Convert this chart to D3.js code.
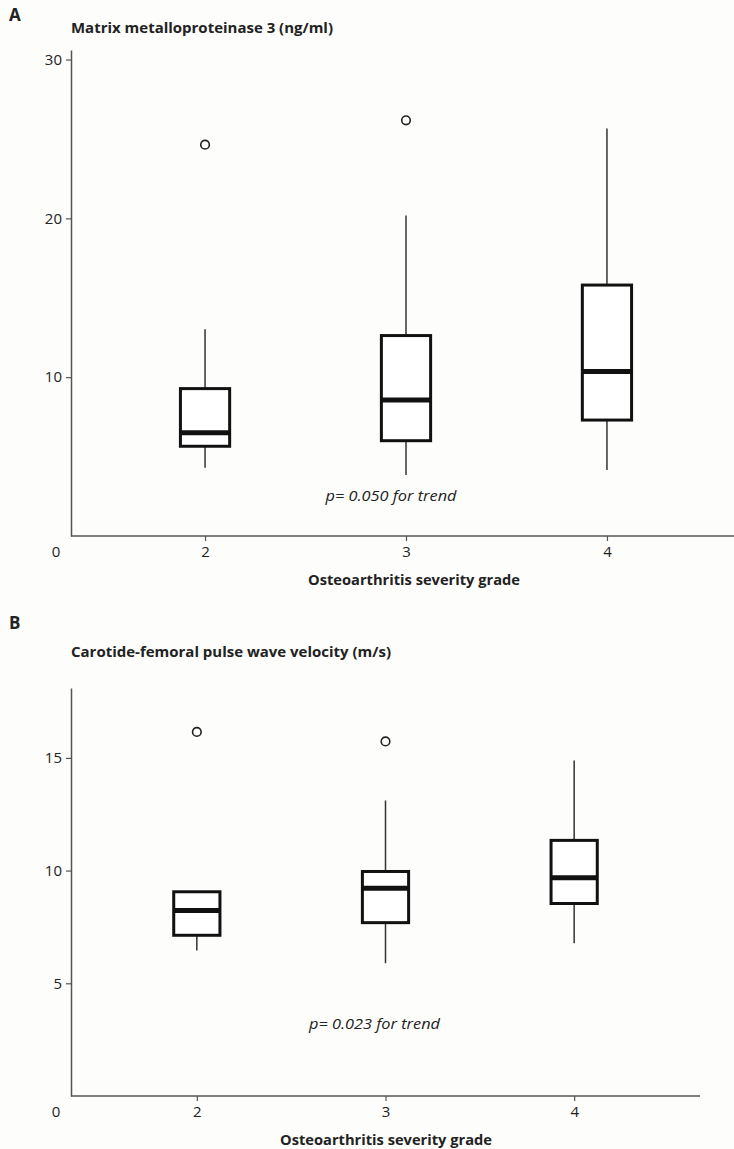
<!DOCTYPE html>
<html>
<head>
<meta charset="utf-8">
<script src="https://cdn.jsdelivr.net/npm/d3@7"></script>
<style>
  html, body { margin: 0; padding: 0; background: #fdfdfb; }
  svg { display: block; }
  text { fill: #222; }
</style>
</head>
<body>
<svg id="chart" width="734" height="1149"></svg>
<script>
// ---------- DATA ----------
const categories = ["2", "3", "4"];

// Panel A: Matrix metalloproteinase 3 (ng/ml)
const aWhiskerLow  = [4.30, 3.84, 4.16];
const aQ1          = [5.65, 6.00, 7.30];
const aMedian      = [6.50, 8.57, 10.35];
const aQ3          = [9.28, 12.62, 15.80];
const aWhiskerHigh = [13.02, 20.18, 25.65];
const aOutliers    = [[24.64], [26.17], []];
const aYTicks      = [10, 20, 30];
const aTitle       = "Matrix metalloproteinase 3 (ng/ml)";
const aP           = "p= 0.050 for trend";

// Panel B: Carotide-femoral pulse wave velocity (m/s)
const bWhiskerLow  = [6.45, 5.89, 6.78];
const bQ1          = [7.13, 7.69, 8.54];
const bMedian      = [8.23, 9.22, 9.68];
const bQ3          = [9.06, 9.96, 11.34];
const bWhiskerHigh = [9.06, 13.11, 14.88];
const bOutliers    = [[16.15], [15.73], []];
const bYTicks      = [5, 10, 15];
const bTitle       = "Carotide-femoral pulse wave velocity (m/s)";
const bP           = "p= 0.023 for trend";

const xLabel = "Osteoarthritis severity grade";

// ---------- DRAW ----------
const svg = d3.select("#chart");
const FONT = "'Open Sans', 'Liberation Sans', sans-serif";

function panel(cfg) {
  const g = svg.append("g");
  const x = d3.scalePoint().domain(categories).range([71, cfg.xRight]).padding(0.667);
  const y = d3.scaleLinear().domain([0, cfg.yMax]).range([cfg.yBottom, cfg.yTop]);
  const step = x.step();
  const bw = step * 0.245;

  // panel letter
  g.append("text").attr("x", 9).attr("y", cfg.letterY)
    .attr("font-family", FONT).attr("font-weight", "bold").attr("font-size", 17)
    .text(cfg.letter);
  // title
  g.append("text").attr("x", 71).attr("y", cfg.titleY)
    .attr("font-family", FONT).attr("font-weight", "bold").attr("font-size", 14)
    .attr("textLength", cfg.titleLen).attr("lengthAdjust", "spacingAndGlyphs")
    .text(cfg.title);

  // y axis
  const yAxis = g.append("g").attr("transform", "translate(71,0)")
    .call(d3.axisLeft(y).tickValues(cfg.yTicks).tickSize(5).tickPadding(4).tickSizeOuter(0));
  yAxis.attr("font-size", 15).attr("font-family", FONT);
  yAxis.select(".domain").attr("stroke", "#555").attr("stroke-width", 1.5);
  yAxis.selectAll(".tick line").attr("stroke", "#555").attr("stroke-width", 1.2);
  yAxis.selectAll(".tick text").attr("font-size", 15).attr("fill", "#333");

  // x axis
  const xAxis = g.append("g").attr("transform", `translate(0,${y(0)})`)
    .call(d3.axisBottom(x).tickSize(5).tickPadding(5).tickSizeOuter(0));
  xAxis.attr("font-size", 15).attr("font-family", FONT);
  xAxis.select(".domain").attr("stroke", "#555").attr("stroke-width", 1.5)
    .attr("d", `M71,0H${cfg.xRight}`);
  xAxis.selectAll(".tick line").attr("stroke", "#555").attr("stroke-width", 1.2);
  xAxis.selectAll(".tick text").attr("font-size", 15).attr("fill", "#333");

  // "0" label offset below the origin
  g.append("text").attr("x", 71 - 15).attr("y", y(0) + 21)
    .attr("text-anchor", "middle").attr("font-family", FONT).attr("font-size", 15).attr("fill", "#333")
    .text("0");

  // x label
  g.append("text").attr("x", x("3") + cfg.xLabelShift).attr("y", y(0) + 49)
    .attr("text-anchor", "middle").attr("font-family", FONT).attr("font-weight", "bold").attr("font-size", 14)
    .attr("textLength", 212).attr("lengthAdjust", "spacingAndGlyphs")
    .text(xLabel);

  // p annotation
  g.append("text").attr("x", x("3") + cfg.pShift).attr("y", y(cfg.pVal) + 5)
    .attr("text-anchor", "middle").attr("font-family", FONT).attr("font-style", "italic").attr("font-size", 14)
    .attr("fill", "#333").attr("textLength", 131).attr("lengthAdjust", "spacingAndGlyphs")
    .text(cfg.p);

  const rows = categories.map((c, i) => ({
    c, lo: cfg.lo[i], q1: cfg.q1[i], med: cfg.med[i], q3: cfg.q3[i], hi: cfg.hi[i], out: cfg.out[i]
  }));

  const box = g.selectAll("g.box").data(rows).join("g").attr("class", "box");
  // whiskers
  box.filter(d => d.hi > d.q3).append("line")
    .attr("x1", d => x(d.c)).attr("x2", d => x(d.c))
    .attr("y1", d => y(d.q3)).attr("y2", d => y(d.hi))
    .attr("stroke", "#333").attr("stroke-width", 1.5);
  box.filter(d => d.lo < d.q1).append("line")
    .attr("x1", d => x(d.c)).attr("x2", d => x(d.c))
    .attr("y1", d => y(d.q1)).attr("y2", d => y(d.lo))
    .attr("stroke", "#333").attr("stroke-width", 1.5);
  // box
  box.append("rect")
    .attr("x", d => x(d.c) - bw / 2).attr("width", bw)
    .attr("y", d => y(d.q3)).attr("height", d => y(d.q1) - y(d.q3))
    .attr("fill", "#fff").attr("stroke", "#111").attr("stroke-width", 3);
  // median
  box.append("line")
    .attr("x1", d => x(d.c) - bw / 2).attr("x2", d => x(d.c) + bw / 2)
    .attr("y1", d => y(d.med)).attr("y2", d => y(d.med))
    .attr("stroke", "#111").attr("stroke-width", 5);
  // outliers
  box.selectAll("circle").data(d => d.out.map(v => ({ c: d.c, v }))).join("circle")
    .attr("cx", d => x(d.c)).attr("cy", d => y(d.v)).attr("r", 4.3)
    .attr("fill", "#fff").attr("stroke", "#222").attr("stroke-width", 1.6);
}

panel({
  letter: "A", letterY: 21, title: aTitle, titleY: 33, titleLen: 262,
  xRight: 741, yBottom: 536, yTop: 50, yMax: 30.6, yTicks: aYTicks,
  lo: aWhiskerLow, q1: aQ1, med: aMedian, q3: aQ3, hi: aWhiskerHigh, out: aOutliers,
  p: aP, pVal: 2.5, pShift: -15, xLabelShift: 8
});

panel({
  letter: "B", letterY: 629, title: bTitle, titleY: 657, titleLen: 320,
  xRight: 700, yBottom: 1096, yTop: 688, yMax: 18.1, yTicks: bYTicks,
  lo: bWhiskerLow, q1: bQ1, med: bMedian, q3: bQ3, hi: bWhiskerHigh, out: bOutliers,
  p: bP, pVal: 3.2, pShift: -11, xLabelShift: 0.5
});
</script>
</body>
</html>
